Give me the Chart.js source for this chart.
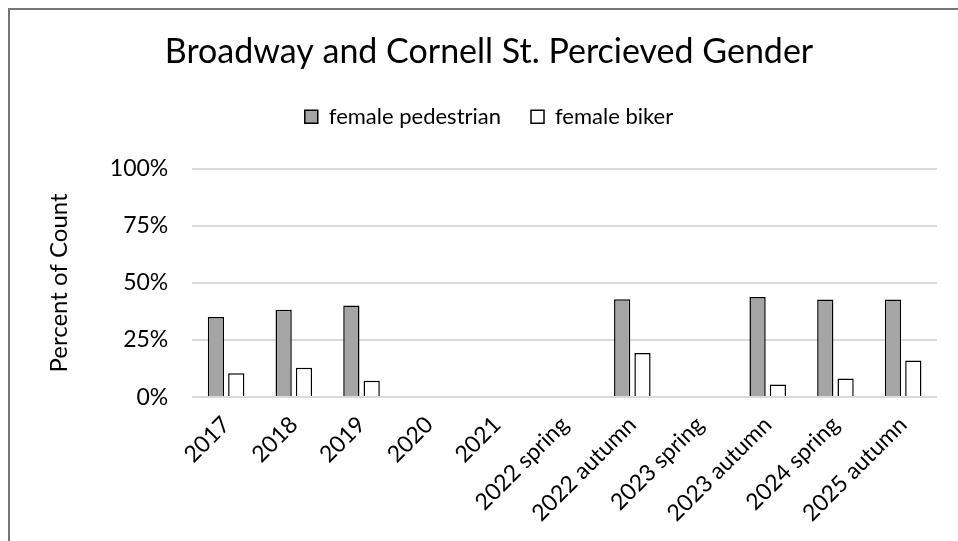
<!DOCTYPE html>
<html>
<head>
<meta charset="utf-8">
<script src="https://cdn.jsdelivr.net/npm/chart.js@4"></script>
<style>
  html, body { margin: 0; padding: 0; background: #fff; overflow: hidden; width: 958px; height: 541px; }
  #box { position: absolute; left: 8px; top: 8px; width: 960px; height: 550px; border: 2px solid #767676; background: #fff; }
  #myChart { display: block; }
</style>
</head>
<body>
<div id="box"><canvas id="myChart" width="960" height="550"></canvas></div>
<script>
// categories and values (percent)
const categories = ["2017", "2018", "2019", "2020", "2021", "2022 spring", "2022 autumn", "2023 spring", "2023 autumn", "2024 spring", "2025 autumn"];
const femalePedestrian = [35.1, 38.3, 40.1, null, null, null, 42.9, null, 43.8, 42.8, 42.8];
const femaleBiker = [10.4, 12.9, 7.2, null, null, null, 19.3, null, 5.5, 8.1, 16.0];
const yTicks = [0, 25, 50, 75, 100];

const fontName = "Lato, 'Liberation Sans', sans-serif";
const ctx = document.getElementById("myChart");

// extra room under the legend, like the excel chart
const legendGap = {
  id: "legendGap",
  beforeInit(chart) {
    const fit = chart.legend.fit;
    chart.legend.fit = function () {
      fit.bind(chart.legend)();
      this.height += 31;
    };
  },
};

const myChart = new Chart(ctx, {
  type: "bar",
  data: {
    labels: categories,
    datasets: [
      {
        label: "female pedestrian",
        data: femalePedestrian,
        backgroundColor: "#a5a5a5",
        borderColor: "#000",
        borderWidth: 1.5,
      },
      {
        label: "female biker",
        data: femaleBiker,
        backgroundColor: "#fff",
        borderColor: "#000",
        borderWidth: 1.5,
      },
    ],
  },
  plugins: [legendGap],
  options: {
    responsive: false,
    animation: false,
    datasets: { bar: { categoryPercentage: 0.6, barPercentage: 0.8 } },
    layout: { padding: { top: 22, right: 33, bottom: 27, left: 31 } },
    plugins: {
      tooltip: { enabled: false },
      title: {
        display: true,
        text: "Broadway and Cornell St. Percieved Gender",
        color: "#000",
        font: { family: fontName, size: 34, weight: "normal" },
        padding: { top: 0, bottom: 3 },
      },
      legend: {
        position: "top",
        labels: {
          color: "#000",
          font: { family: fontName, size: 22 },
          boxWidth: 13,
          boxHeight: 13,
          padding: 30,
        },
      },
    },
    scales: {
      x: {
        grid: { display: false },
        border: { display: false },
        ticks: {
          color: "#000",
          font: { family: fontName, size: 23 },
          minRotation: 45,
          maxRotation: 45,
          padding: 6,
        },
      },
      y: {
        min: 0,
        max: 100,
        afterBuildTicks: (axis) => {
          axis.ticks = yTicks.map((v) => ({ value: v }));
        },
        grid: { color: "#d9d9d9", lineWidth: 2, drawTicks: false },
        border: { display: false },
        ticks: {
          color: "#000",
          font: { family: fontName, size: 23 },
          padding: 24,
          callback: (v) => v + "%",
        },
        title: {
          display: true,
          text: "Percent of Count",
          color: "#000",
          font: { family: fontName, size: 24 },
          padding: { bottom: 12 },
        },
      },
    },
  },
});
</script>
</body>
</html>
